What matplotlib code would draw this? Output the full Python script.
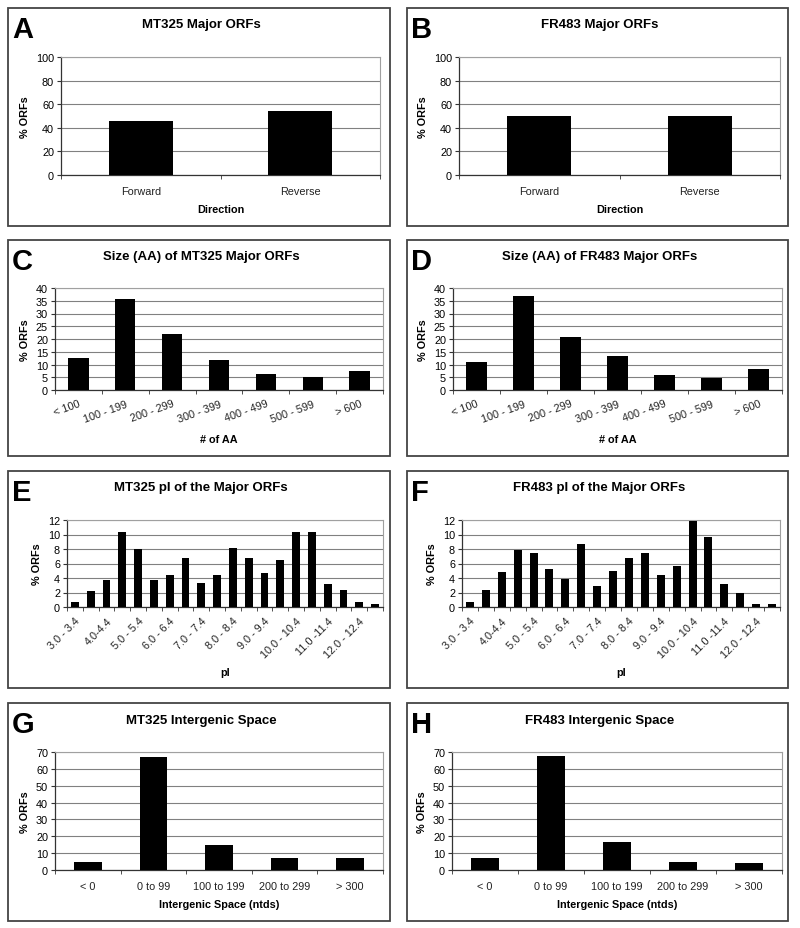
import numpy as np
import matplotlib
matplotlib.use('agg')
import matplotlib.pyplot as plt  # noqa
from matplotlib.patches import Rectangle  # noqa

plt.rcParams['font.family'] = ['Liberation Sans', 'DejaVu Sans']

W, H = 800, 929

# --- data ---
direction_cats = ['Forward', 'Reverse']
mt325_direction = [45.7, 54.3]
fr483_direction = [50.3, 49.7]

size_cats = ['< 100', '100 - 199', '200 - 299', '300 - 399',
             '400 - 499', '500 - 599', '> 600']
mt325_size = [12.5, 35.8, 21.8, 11.8, 6.4, 5.2, 7.4]
fr483_size = [11.1, 36.8, 20.7, 13.3, 5.9, 4.9, 8.1]

pi_cats = ['3.0 - 3.4', '3.5 - 3.9', '4.0-4.4', '4.5 - 4.9', '5.0 - 5.4',
           '5.5 - 5.9', '6.0 - 6.4', '6.5 - 6.9', '7.0 - 7.4', '7.5 - 7.9',
           '8.0 - 8.4', '8.5 - 8.9', '9.0 - 9.4', '9.5 - 9.9', '10.0 - 10.4',
           '10.5 - 10.9', '11.0 -11.4', '11.5 - 11.9', '12.0 - 12.4',
           '12.5 - 12.9']
mt325_pi = [0.7, 2.2, 3.7, 10.4, 8.0, 3.7, 4.4, 6.7, 3.3, 4.4,
            8.2, 6.7, 4.7, 6.5, 10.4, 10.4, 3.2, 2.4, 0.7, 0.4]
fr483_pi = [0.7, 2.3, 4.8, 7.8, 7.4, 5.3, 3.8, 8.7, 2.9, 4.9,
            6.8, 7.4, 4.4, 5.7, 11.9, 9.7, 3.2, 1.9, 0.4, 0.4]

space_cats = ['< 0', '0 to 99', '100 to 199', '200 to 299', '> 300']
mt325_space = [4.5, 67.0, 14.8, 7.0, 7.0]
fr483_space = [7.0, 67.8, 16.8, 4.9, 4.3]


fig = plt.figure(figsize=(W / 100, H / 100), dpi=100)


def fx(x):
    return x / W


def fy(y):
    return 1 - y / H


def px_axes(left, top, right, bottom):
    return fig.add_axes([fx(left), fy(bottom), (right - left) / W,
                         (bottom - top) / H])


def panel(box, letter, title, plot_box, cats, values, yticks, xlabel,
          width=0.4, rotation=0, every=1, title_y=None, xlabel_y=None):
    l, t, r, b = box
    fig.add_artist(Rectangle((fx(l), fy(b)), (r - l) / W, (b - t) / H,
                             transform=fig.transFigure, fill=False,
                             edgecolor='#444444', linewidth=1.3))
    fig.text(fx(l + 4), fy(t + 7), letter, fontsize=21, fontweight='bold',
             ha='left', va='top')
    fig.text(fx((l + r) / 2 + 2), fy(title_y), title, fontsize=9.5,
             fontweight='bold', ha='center', va='center')

    ax = px_axes(*plot_box)
    x = np.arange(len(cats))
    ax.bar(x, values, width=width, color='black', zorder=3)
    ax.set_xlim(-0.5, len(cats) - 0.5)
    ax.set_ylim(yticks[0], yticks[-1])
    ax.set_yticks(yticks)
    ax.yaxis.grid(True, color='#808080', linewidth=0.8, zorder=0)
    for side in ['top', 'right']:
        ax.spines[side].set_color('#a0a0a0')
        ax.spines[side].set_linewidth(0.8)
    for side in ['left', 'bottom']:
        ax.spines[side].set_color('#333333')
        ax.spines[side].set_linewidth(0.9)

    ax.set_xticks(x[::every])
    if rotation:
        ax.set_xticklabels(cats[::every], rotation=rotation, ha='right',
                           rotation_mode='anchor')
    else:
        ax.set_xticklabels(cats[::every])
    ax.set_xticks(np.arange(len(cats) + 1) - 0.5, minor=True)
    ax.tick_params(axis='x', which='major', length=0, labelsize=7.8,
                   pad=6 if rotation else 8, colors='#222222')
    ax.tick_params(axis='x', which='minor', length=3, direction='out',
                   color='#333333')
    ax.tick_params(axis='y', length=3, direction='out', labelsize=7.8,
                   color='#333333', pad=2)
    ax.set_ylabel('% ORFs', fontsize=7.8, fontweight='bold', labelpad=4)
    fig.text(fx((plot_box[0] + plot_box[2]) / 2), fy(xlabel_y), xlabel,
             fontsize=7.8, fontweight='bold', ha='center', va='center')
    return ax


# A / B
panel((8, 9, 390, 227), 'A', 'MT325 Major ORFs', (61, 58, 380, 176),
      direction_cats, mt325_direction, np.arange(0, 101, 20), 'Direction',
      title_y=25, xlabel_y=210)
panel((407, 9, 788, 227), 'B', 'FR483 Major ORFs', (459, 58, 780, 176),
      direction_cats, fr483_direction, np.arange(0, 101, 20), 'Direction',
      title_y=25, xlabel_y=210)

# C / D
panel((8, 241, 390, 457), 'C', 'Size (AA) of MT325 Major ORFs',
      (55, 289, 383, 391), size_cats, mt325_size, np.arange(0, 41, 5),
      '# of AA', width=0.43, rotation=20, title_y=257, xlabel_y=440)
panel((407, 241, 788, 457), 'D', 'Size (AA) of FR483 Major ORFs',
      (453, 289, 782, 391), size_cats, fr483_size, np.arange(0, 41, 5),
      '# of AA', width=0.43, rotation=20, title_y=257, xlabel_y=440)

# E / F
panel((8, 472, 390, 689), 'E', 'MT325 pI of the Major ORFs',
      (67, 521, 383, 608), pi_cats, mt325_pi, np.arange(0, 13, 2),
      'pI', width=0.5, rotation=45, every=2, title_y=488, xlabel_y=673)
panel((407, 472, 788, 689), 'F', 'FR483 pI of the Major ORFs',
      (462, 521, 780, 608), pi_cats, fr483_pi, np.arange(0, 13, 2),
      'pI', width=0.5, rotation=45, every=2, title_y=488, xlabel_y=673)

# G / H
panel((8, 704, 390, 922), 'G', 'MT325 Intergenic Space',
      (55, 753, 383, 871), space_cats, mt325_space, np.arange(0, 71, 10),
      'Intergenic Space (ntds)', width=0.42, title_y=721, xlabel_y=905)
panel((407, 704, 788, 922), 'H', 'FR483 Intergenic Space',
      (452, 753, 782, 871), space_cats, fr483_space, np.arange(0, 71, 10),
      'Intergenic Space (ntds)', width=0.42, title_y=721, xlabel_y=905)

fig.savefig('out.png', dpi=100)
